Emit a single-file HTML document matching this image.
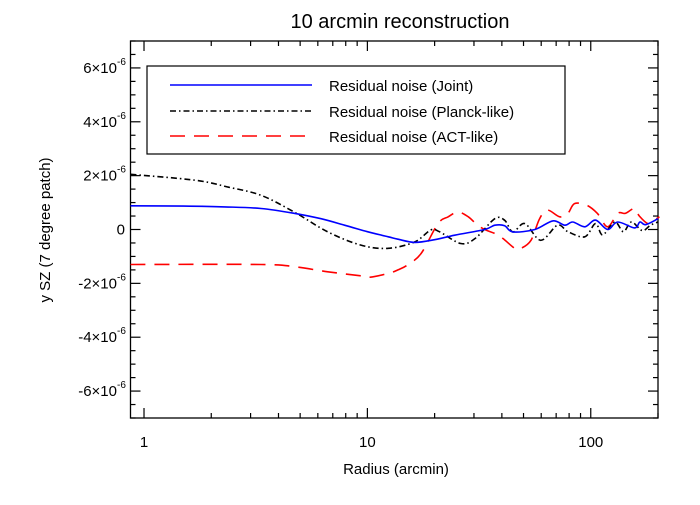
<!DOCTYPE html>
<html><head><meta charset="utf-8"><style>
body{margin:0;background:#fff;}
svg{font-family:"Liberation Sans",Helvetica,Arial,sans-serif;}
</style></head><body>
<svg id="chart" width="700" height="500" viewBox="0 0 700 500">
<rect width="700" height="500" fill="#fff"/>
<text x="400" y="28" font-size="20" text-anchor="middle">10 arcmin reconstruction</text>
<text x="396" y="474" font-size="15" text-anchor="middle">Radius (arcmin)</text>
<text transform="translate(50,230) rotate(-90)" font-size="15" text-anchor="middle">y SZ (7 degree patch)</text>
<g id="axes"></g>
<g id="series"></g>
<g>
<rect x="147" y="66" width="418" height="88" fill="#fff" stroke="#000" stroke-width="1.2"/>
<line x1="170" y1="85" x2="312" y2="85" stroke="#0000ff" stroke-width="1.6"/>
<text x="329" y="91" font-size="15">Residual noise (Joint)</text>
<line x1="170" y1="111" x2="312" y2="111" stroke="#000" stroke-width="1.6" stroke-dasharray="6,3,1.5,3"/>
<text x="329" y="117" font-size="15">Residual noise (Planck-like)</text>
<line x1="170" y1="136" x2="312" y2="136" stroke="#ff0000" stroke-width="1.6" stroke-dasharray="15,9"/>
<text x="329" y="142" font-size="15">Residual noise (ACT-like)</text>
</g>
</svg>
<script>
const yTicks=[6,4,2,0,-2,-4,-6];
const xTicks=[1,10,100];
const jointR=[0.87,1.5,2.3,3.34,4.7,6.2,7.9,10,12.4,13.7,16.3,20,24.6,33.5,37.2,41.2,44.8,56.2,67.6,76.5,83,94,105,119,132,157,166,176,200];
const jointV=[0.88,0.87,0.84,0.78,0.6,0.4,0.16,-0.08,-0.27,-0.36,-0.48,-0.38,-0.21,0,0.16,0.14,-0.09,0,0.32,0.16,0.28,0.1,0.35,0,0.28,0.06,0.28,0.18,0.4];
const planckR=[0.87,1.69,2.37,3.34,4.7,6.65,9.35,12.4,16.3,19.2,21,26.2,30.4,37.2,41.2,44.8,50.7,59.7,71,79,94,105,113,128,140,152,170,185,200];
const planckV=[2.05,1.83,1.58,1.27,0.65,-0.09,-0.58,-0.7,-0.46,-0.02,-0.08,-0.52,-0.33,0.4,0.34,-0.09,0.22,-0.4,0.16,-0.08,-0.27,0.22,-0.2,0.28,-0.08,0.28,-0.04,0.16,0.28];
const actR=[0.87,3.34,4.7,6.65,9.35,10.3,12.4,13.7,15.1,17.4,20.7,23,25.4,28.3,31.1,33.9,37.2,40.4,45.7,48.7,54,59,64,72.6,79,84.6,96,107,119,132,143,157,165,180,190,203];
const actV=[-1.3,-1.3,-1.38,-1.57,-1.72,-1.77,-1.63,-1.5,-1.32,-0.89,0.22,0.47,0.65,0.47,0.16,-0.02,-0.15,-0.33,-0.7,-0.7,-0.4,0.4,0.72,0.47,0.6,0.96,0.9,0.6,0.1,0.6,0.6,0.78,0.5,0.22,0.32,0.47];
const L=130.5,R=658,T=41,B=418,xMin=0.87,xMax=200,yMin=-7,yMax=7;
const xs=v=>L+(Math.log10(v)-Math.log10(xMin))/(Math.log10(xMax)-Math.log10(xMin))*(R-L);
const ys=v=>B-(v-yMin)/(yMax-yMin)*(B-T);
const NS="http://www.w3.org/2000/svg";
const ax=document.getElementById('axes'),sg=document.getElementById('series');
function mk(t,a,p){const e=document.createElementNS(NS,t);for(const k in a)e.setAttribute(k,a[k]);p.appendChild(e);return e;}
const frame=mk('rect',{x:L,y:T,width:R-L,height:B-T,fill:'none',stroke:'#000','stroke-width':1.3},ax);


for(let d=0;d<=2;d++)for(let m=1;m<=9;m++){const v=m*Math.pow(10,d);if(v<xMin||v>xMax)continue;const x=xs(v);const len=m===1?10:5;
const t1=mk('line',{x1:x,y1:B,x2:x,y2:B-len,stroke:'#000','stroke-width':1.2},ax);


const t2=mk('line',{x1:x,y1:T,x2:x,y2:T+len,stroke:'#000','stroke-width':1.2},ax);

}
xTicks.forEach(v=>{const t=mk('text',{x:xs(v),y:447,'font-size':15,'text-anchor':'middle'},ax);t.textContent=String(v);

});
for(let v=-7;v<=7.001;v+=0.5){const y=ys(v);const len=Math.abs(v%2)<1e-9?10:5;
const t1=mk('line',{x1:L,y1:y,x2:L+len,y2:y,stroke:'#000','stroke-width':1.2},ax);


const t2=mk('line',{x1:R,y1:y,x2:R-len,y2:y,stroke:'#000','stroke-width':1.2},ax);

}
yTicks.forEach(v=>{const y=ys(v);let t;
if(v===0){t=mk('text',{x:125,y:y+5,'font-size':15,'text-anchor':'end'},ax);t.textContent='0';}
else{t=mk('text',{x:117,y:y+5,'font-size':15,'text-anchor':'end'},ax);t.textContent=v+'\u00d710';
const s=mk('text',{x:117,y:y-3,'font-size':10,'text-anchor':'start'},ax);s.textContent='-6';

}

});
function smooth(pts){let d='M'+pts[0][0].toFixed(1)+','+pts[0][1].toFixed(1);
for(let i=0;i<pts.length-1;i++){const p0=pts[Math.max(0,i-1)],p1=pts[i],p2=pts[i+1],p3=pts[Math.min(pts.length-1,i+2)];
const c1=[p1[0]+(p2[0]-p0[0])/6,p1[1]+(p2[1]-p0[1])/6],c2=[p2[0]-(p3[0]-p1[0])/6,p2[1]-(p3[1]-p1[1])/6];
d+=' C'+c1.map(n=>n.toFixed(1)).join(',')+' '+c2.map(n=>n.toFixed(1)).join(',')+' '+p2[0].toFixed(1)+','+p2[1].toFixed(1);}
return d;}
function series(r,v,col,dash,name){const pts=r.map((x,i)=>[xs(x),ys(v[i])]);
const p=mk('path',{d:smooth(pts),fill:'none',stroke:col,'stroke-width':1.6,'stroke-dasharray':dash,'stroke-linejoin':'round'},sg);

}
series(actR,actV,'#ff0000','15,9','series-act-like');
series(planckR,planckV,'#000','6,3,1.5,3','series-planck-like');
series(jointR,jointV,'#0000ff','none','series-joint');
</script>
</body></html>
